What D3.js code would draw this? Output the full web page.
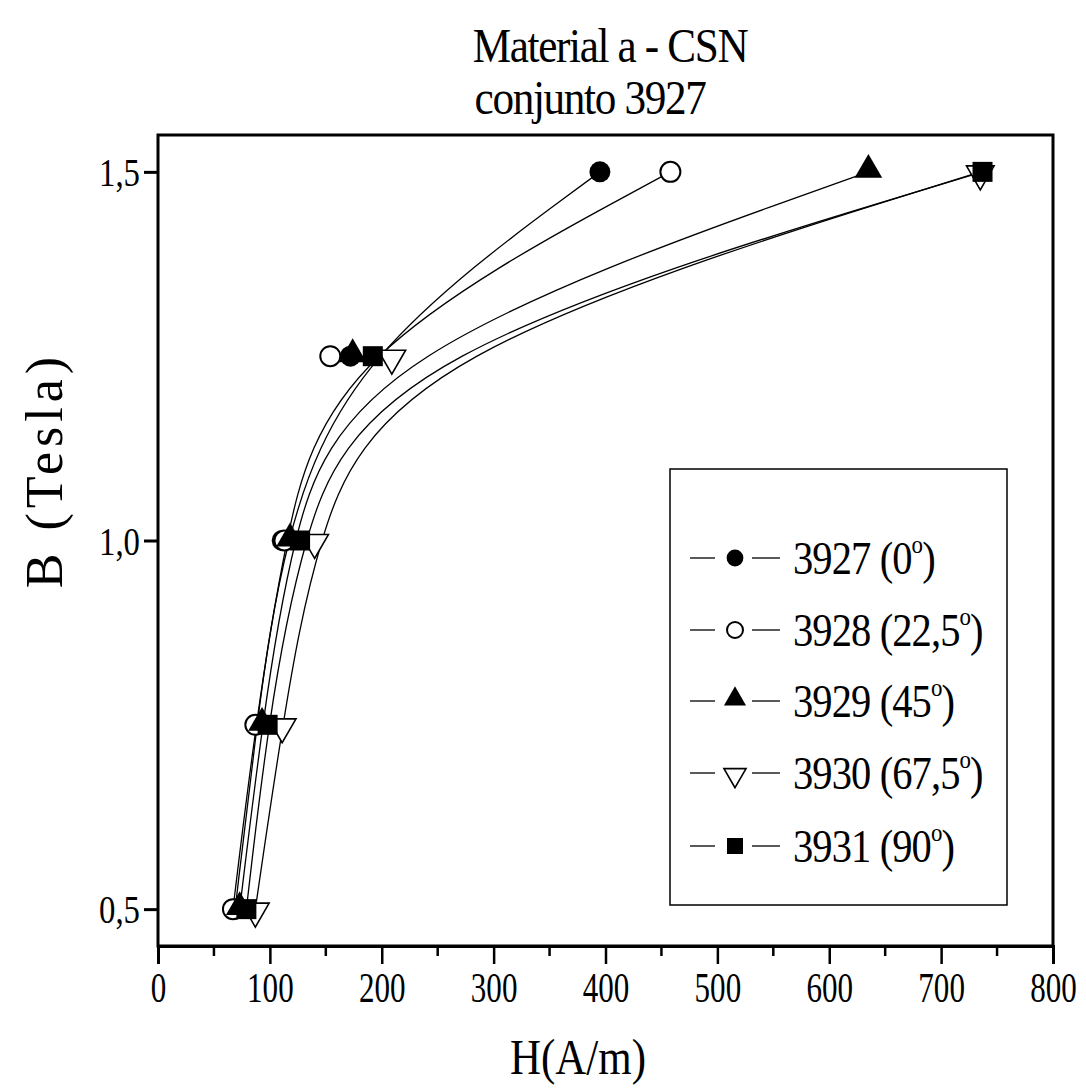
<!DOCTYPE html>
<html>
<head>
<meta charset="utf-8">
<style>
    body { margin: 0; background: #fff; }
    .curve { fill: none; stroke: #000; stroke-width: 1.3px; }
</style>
</head>
<body>
<svg id="chart" width="1086" height="1089"></svg>
<script src="https://cdn.jsdelivr.net/npm/d3@7"></script>
<script>
    // B levels (Tesla) and H readings (A/m) per sample
    var levelsB = [0.5, 0.75, 1.0, 1.25, 1.5];
    var h3927 = [69, 88, 111, 172, 395];
    var h3928 = [67, 87, 113, 154, 458];
    var h3929 = [73, 93, 118, 174, 635];
    var h3930 = [87, 111, 140, 209, 735];
    var h3931 = [79, 98, 127, 192, 737];

    var seriesNames = ["3927", "3928", "3929", "3930", "3931"];
    var seriesAngles = ["0", "22,5", "45", "67,5", "90"];
    var seriesH = [h3927, h3928, h3929, h3930, h3931];

    var xTicks = [0, 100, 200, 300, 400, 500, 600, 700, 800];
    var xMinor = [50, 150, 250, 350, 450, 550, 650, 750];
    var yTicks = [0.5, 1.0, 1.5];

    var FONT = "Liberation Serif";

    var svg = d3.select("#chart");
    var margin = {left: 158, right: 33, top: 135, bottom: 143};
    var W = 1086, H = 1089;

    var x = d3.scaleLinear().domain([0, 800]).range([margin.left, W - margin.right]);
    var y = d3.scaleLinear().domain([0.45, 1.55]).range([H - margin.bottom, margin.top]);

    // narrow text like the original's condensed Times
    function squeeze(t, sx) {
        var x0 = +t.attr("x") || 0;
        t.attr("x", x0 / sx).attr("transform", "scale(" + sx + ",1)");
        return t;
    }

    // marker shapes
    function marker(sel, i, big) {
        var k = big ? 1 : 0.8;
        if (i === 0) {
            sel.append("circle").attr("r", 10.5 * k).attr("fill", "#000");
        } else if (i === 1) {
            sel.append("circle").attr("r", 10 * k).attr("fill", "#fff").attr("stroke", "#000").attr("stroke-width", 2);
        } else if (i === 2) {
            sel.append("path").attr("d", d3.symbol(d3.symbolTriangle, 330 * k * k)()).attr("fill", "#000")
                .attr("transform", "translate(0,-2)");
        } else if (i === 3) {
            sel.append("path").attr("d", d3.symbol(d3.symbolTriangle, 330 * k * k)()).attr("fill", "#fff")
                .attr("stroke", "#000").attr("stroke-width", 1.6).attr("transform", "translate(0,2) rotate(180)");
        } else {
            var s = 20 * k;
            sel.append("rect").attr("x", -s / 2).attr("y", -s / 2).attr("width", s).attr("height", s).attr("fill", "#000");
        }
    }

    // title
    squeeze(svg.append("text").attr("x", 610).attr("y", 62).attr("text-anchor", "middle").style("font-family", FONT)
        .style("font-size", "48px").style("letter-spacing", "-1.5px").text("Material a - CSN"), 0.9);
    squeeze(svg.append("text").attr("x", 590).attr("y", 114).attr("text-anchor", "middle").style("font-family", FONT)
        .style("font-size", "48px").style("letter-spacing", "-1.5px").text("conjunto 3927"), 0.9);

    // curves (smoothed through the readings)
    var line = d3.line()
        .x(function (d) { return x(d[0]); })
        .y(function (d) { return y(d[1]); })
        .curve(d3.curveBasis);

    seriesH.forEach(function (hs, i) {
        var pts = hs.map(function (h, j) { return [h, levelsB[j]]; });
        svg.append("path").attr("class", "curve").attr("d", line(pts));
    });

    // markers
    seriesH.forEach(function (hs, i) {
        hs.forEach(function (h, j) {
            var g = svg.append("g").attr("transform", "translate(" + x(h) + "," + y(levelsB[j]) + ")");
            marker(g, i, true);
        });
    });

    // frame
    svg.append("rect").attr("x", x(0)).attr("y", margin.top)
        .attr("width", x(800) - x(0)).attr("height", y(0.45) - margin.top)
        .attr("fill", "none").attr("stroke", "#000").attr("stroke-width", 3);

    // x axis
    var xAxis = svg.append("g").attr("transform", "translate(0," + y(0.45) + ")")
        .call(d3.axisBottom(x).tickValues(xTicks).tickSize(18).tickPadding(8).tickFormat(d3.format("d")));
    xAxis.attr("font-family", null).attr("font-size", null);
    xAxis.selectAll(".tick text").style("font-family", FONT).style("font-size", "42px")
        .attr("transform", "scale(0.74,1)");
    xAxis.select(".domain").attr("stroke-width", 3);
    xAxis.selectAll(".tick line").attr("stroke-width", 2.5);
    xAxis.selectAll(".minor").data(xMinor).enter().append("line").attr("class", "minor")
        .attr("x1", function (d) { return x(d); }).attr("x2", function (d) { return x(d); })
        .attr("y1", 0).attr("y2", 10).attr("stroke", "#000").attr("stroke-width", 2.5);

    // y axis
    var yAxis = svg.append("g").attr("transform", "translate(" + x(0) + ",0)")
        .call(d3.axisLeft(y).tickValues(yTicks).tickSize(14).tickPadding(4)
            .tickFormat(function (d) { return d3.format(".1f")(d).replace(".", ","); }));
    yAxis.attr("font-family", null).attr("font-size", null);
    yAxis.selectAll(".tick text").style("font-family", FONT).style("font-size", "40px")
        .attr("dy", "0.34em").attr("x", -18 / 0.82).attr("transform", "scale(0.82,1)");
    yAxis.select(".domain").remove();
    yAxis.selectAll(".tick line").attr("stroke-width", 3);

    // axis titles
    squeeze(svg.append("text").attr("x", 578).attr("y", 1074).attr("text-anchor", "middle").style("font-family", FONT)
        .style("font-size", "50px").text("H(A/m)"), 0.86);
    svg.append("text").attr("transform", "translate(62,470) rotate(-90)").attr("text-anchor", "middle")
        .style("font-family", FONT).style("font-size", "52px").style("letter-spacing", "5px").text("B (Tesla)");

    // legend
    var lg = svg.append("g");
    lg.append("rect").attr("x", 670).attr("y", 469).attr("width", 337).attr("height", 436)
        .attr("fill", "#fff").attr("stroke", "#000").attr("stroke-width", 1.5);
    var rowY = [558, 630, 701, 773, 846];
    seriesNames.forEach(function (nm, i) {
        var row = lg.append("g").attr("transform", "translate(0," + rowY[i] + ")");
        row.append("line").attr("x1", 690).attr("x2", 715).attr("stroke", "#000").attr("stroke-width", 1.3);
        row.append("line").attr("x1", 752).attr("x2", 780).attr("stroke", "#000").attr("stroke-width", 1.3);
        var m = row.append("g").attr("transform", "translate(735,0)");
        marker(m, i, false);
        var t = row.append("text").attr("x", 793).attr("y", 16).style("font-family", FONT)
            .style("font-size", "46px").style("letter-spacing", "-1px");
        t.append("tspan").text(nm + " (" + seriesAngles[i]);
        t.append("tspan").attr("dy", -21).style("font-size", "26px").text("o");
        t.append("tspan").attr("dy", 21).text(")");
        squeeze(t, 0.88);
    });
</script>
</body>
</html>
